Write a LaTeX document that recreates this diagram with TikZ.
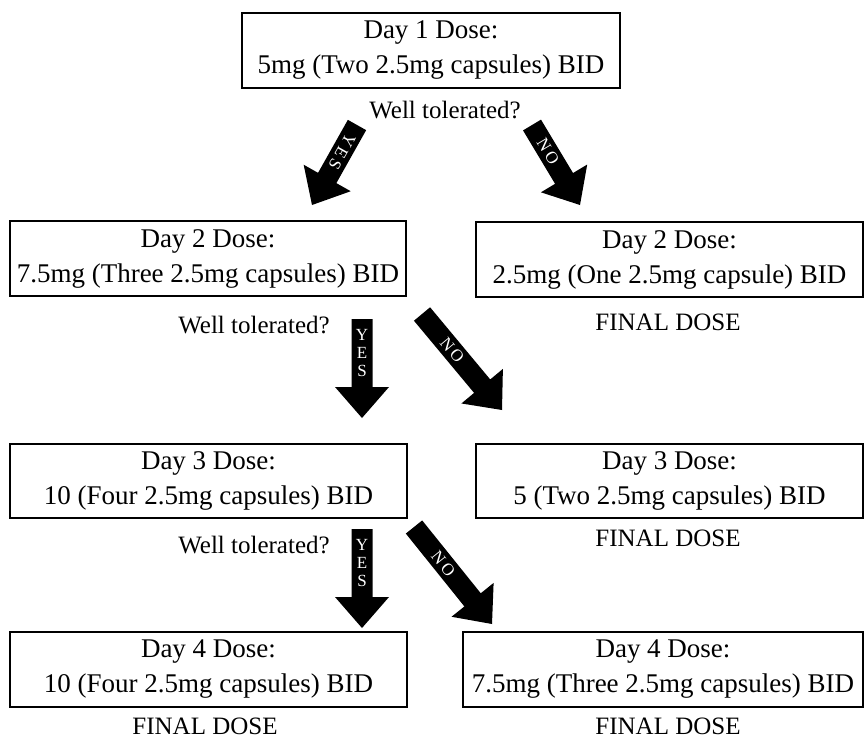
\documentclass[tikz,border=0pt]{standalone}
\usepackage{fontspec}
\setmainfont{Liberation Serif}
\usetikzlibrary{calc}
\tikzset{
  dosebox/.style={draw, line width=1.5pt, align=center, inner sep=0pt,
    font=\fontsize{27}{35}\selectfont},
  firstbox/.style={dosebox, line width=2pt},
  question/.style={anchor=base, inner sep=0pt, font=\fontsize{25}{28}\selectfont},
  finaldose/.style={anchor=base, inner sep=0pt, font=\fontsize{25}{28}\selectfont},
  arrowlabel/.style={text=white, inner sep=0pt, align=center, font=\fontsize{17}{18}\selectfont},
}
% #1 tail, #2 tip, #3 name for head-base coordinate
\newcommand\myblockarrow[3]{%
  \coordinate (#3) at ($(#2)!31pt!(#1)$);
  \fill ($(#1)!10.5pt!90:(#2)$) -- ($(#3)!10.5pt!90:(#2)$) -- ($(#3)!27pt!90:(#2)$)
    -- (#2) -- ($(#3)!27pt!-90:(#2)$) -- ($(#3)!10.5pt!-90:(#2)$)
    -- ($(#1)!10.5pt!-90:(#2)$) -- cycle;
}
\begin{document}
\begin{tikzpicture}[x=1pt,y=-1pt]
\useasboundingbox (0,0) rectangle (865,744);

% dose boxes
\node[firstbox, minimum width=378pt, minimum height=75pt] (d1) at (431,50.5)
  {Day 1 Dose:\\5mg (Two 2.5mg capsules) BID};
\node[dosebox, minimum width=396pt, minimum height=75pt] (d2y) at (208,258.5)
  {Day 2 Dose:\\7.5mg (Three 2.5mg capsules) BID};
\node[dosebox, minimum width=387pt, minimum height=75pt] (d2n) at (669.5,259.5)
  {Day 2 Dose:\\2.5mg (One 2.5mg capsule) BID};
\node[dosebox, minimum width=397pt, minimum height=74pt] (d3y) at (208.5,481)
  {Day 3 Dose:\\10 (Four 2.5mg capsules) BID};
\node[dosebox, minimum width=387pt, minimum height=74pt] (d3n) at (669.5,481)
  {Day 3 Dose:\\5 (Two 2.5mg capsules) BID};
\node[dosebox, minimum width=397pt, minimum height=75pt] (d4y) at (208.5,669.5)
  {Day 4 Dose:\\10 (Four 2.5mg capsules) BID};
\node[dosebox, minimum width=400pt, minimum height=75pt] (d4n) at (663,669.5)
  {Day 4 Dose:\\7.5mg (Three 2.5mg capsules) BID};

% questions
\node[question] (q1) at (445,118) {Well tolerated?};
\node[question] (q2) at (254,333) {Well tolerated?};
\node[question] (q3) at (254,553) {Well tolerated?};

% final dose labels
\node[finaldose] (f2) at (668,330) {FINAL DOSE};
\node[finaldose] (f3) at (668,546) {FINAL DOSE};
\node[finaldose] (f4y) at (205,734) {FINAL DOSE};
\node[finaldose] (f4n) at (668,734) {FINAL DOSE};

% arrow end points
\coordinate (y1a) at (357,125); \coordinate (y1b) at (312,205);
\coordinate (n1a) at (532,125); \coordinate (n1b) at (580,205);
\coordinate (y2a) at (362,319); \coordinate (y2b) at (362,418);
\coordinate (n2a) at (422,314); \coordinate (n2b) at (502,410);
\coordinate (y3a) at (362,529); \coordinate (y3b) at (362,628);
\coordinate (n3a) at (414,527); \coordinate (n3b) at (492,624);

\myblockarrow{y1a}{y1b}{y1h}
\myblockarrow{n1a}{n1b}{n1h}
\myblockarrow{y2a}{y2b}{y2h}
\myblockarrow{n2a}{n2b}{n2h}
\myblockarrow{y3a}{y3b}{y3h}
\myblockarrow{n3a}{n3b}{n3h}

% arrow labels
\path (y1a) -- (y1h) node[midway, sloped, allow upside down, arrowlabel] (ly1) {Y\hspace{3pt}E\hspace{3pt}S};
\path (n1a) -- (n1h) node[midway, sloped, arrowlabel] (ln1) {N\hspace{3pt}O};
\path (y2a) -- (y2h) node[midway, arrowlabel] (ly2) {Y\\E\\S};
\path (n2a) -- (n2h) node[midway, sloped, arrowlabel] (ln2) {N\hspace{3pt}O};
\path (y3a) -- (y3h) node[midway, arrowlabel] (ly3) {Y\\E\\S};
\path (n3a) -- (n3h) node[midway, sloped, arrowlabel] (ln3) {N\hspace{3pt}O};
\end{tikzpicture}
\end{document}
